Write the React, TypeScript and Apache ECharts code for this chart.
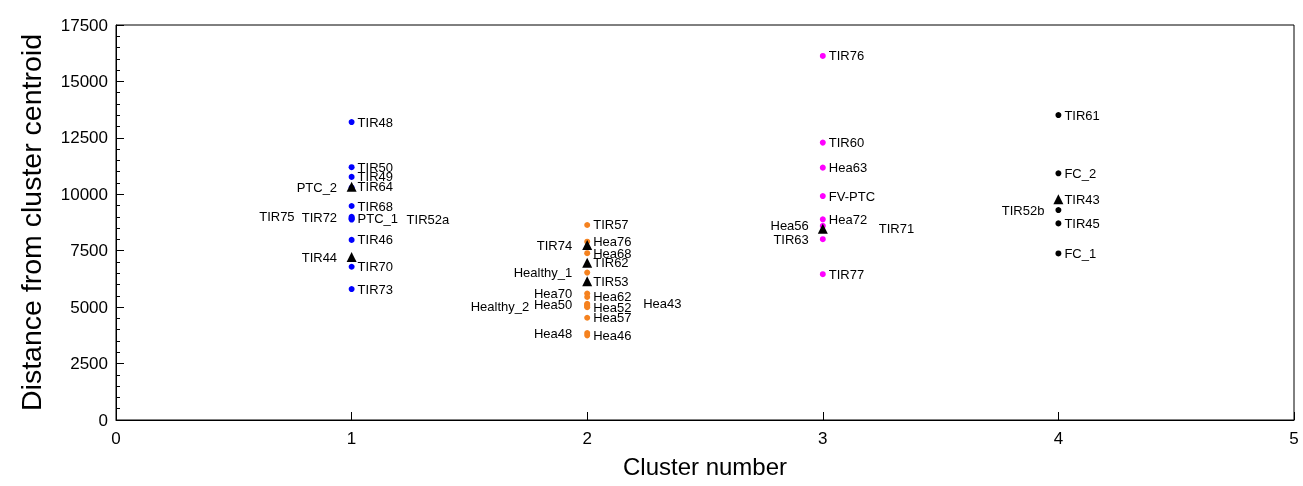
import React, { useEffect, useRef } from "react";
import * as echarts from "echarts";

// ---- Data ----
const cluster1Names = ["TIR48", "TIR50", "TIR49", "PTC_2", "TIR68", "TIR75", "TIR72", "PTC_1", "TIR52a", "TIR46", "TIR70", "TIR73"];
const cluster1Values = [13200, 11200, 10770, 10300, 9480, 9000, 8950, 8920, 8880, 7980, 6790, 5800];

const cluster2Names = ["TIR57", "Hea76", "Hea68", "Healthy_1", "Hea70", "Hea62", "Hea43", "Hea50", "Healthy_2", "Hea52", "Hea57", "Hea48", "Hea46"];
const cluster2Values = [8640, 7900, 7390, 6530, 5600, 5450, 5150, 5100, 5050, 5000, 4530, 3850, 3750];

const cluster3Names = ["TIR76", "TIR60", "Hea63", "FV-PTC", "Hea72", "Hea56", "TIR63", "TIR77"];
const cluster3Values = [16130, 12290, 11180, 9920, 8890, 8600, 8010, 6460];

const cluster4Names = ["TIR61", "FC_2", "TIR52b", "TIR45", "FC_1"];
const cluster4Values = [13510, 10930, 9300, 8710, 7380];

const triangleNames = ["TIR64", "TIR44", "TIR74", "TIR62", "TIR53", "TIR71", "TIR43"];
const triangleClusters = [1, 1, 2, 2, 2, 3, 4];
const triangleValues = [10330, 7220, 7750, 6970, 6150, 8470, 9780];

const xTicks = [0, 1, 2, 3, 4, 5];
const yTicks = [0, 2500, 5000, 7500, 10000, 12500, 15000, 17500];

// ---- Label placement (style) : side and gap from marker centre to text edge ----
const labelPlacement: Record<string, [string, number]> = {
  PTC_2: ["left", 14.5],
  TIR72: ["left", 14.5],
  TIR44: ["left", 14.5],
  TIR75: ["left", 57],
  TIR52a: ["right", 55],
  TIR74: ["left", 15],
  Healthy_1: ["left", 15],
  Hea70: ["left", 15],
  Hea50: ["left", 15],
  Healthy_2: ["left", 58],
  Hea43: ["right", 56],
  Hea48: ["left", 15],
  Hea56: ["left", 14],
  TIR63: ["left", 14],
  TIR71: ["right", 56],
  TIR52b: ["left", 14],
};

const FONT = "Liberation Sans, Arial, sans-serif";
const DOT = 6;
const TRI = 10;

function buildItems(names: string[], clusters: number[], values: number[], size: number) {
  return names.map((n, i) => {
    const p = labelPlacement[n] || ["right", 6];
    return {
      name: n,
      value: [clusters[i], values[i]],
      label: { position: p[0], distance: Math.max(0, p[1] - size / 2) },
    };
  });
}

const App: React.FC = () => {
  const ref = useRef<HTMLDivElement>(null);
  useEffect(() => {
    if (!ref.current) return;
    const chart = echarts.init(ref.current, undefined, { renderer: "svg" });
    const labelBase = {
      show: true,
      formatter: "{b}",
      fontSize: 13,
      color: "#000",
      fontFamily: FONT,
    };
    const dotSeries = (names: string[], values: number[], c: number, color: string) => ({
      type: "scatter",
      symbol: "circle",
      symbolSize: DOT,
      itemStyle: { color, opacity: 1 },
      label: labelBase,
      z: 2,
      data: buildItems(names, names.map(() => c), values, DOT),
    });
    chart.setOption({
      animation: false,
      textStyle: { fontFamily: FONT },
      grid: {
        left: 116,
        right: 9,
        top: 25,
        bottom: 66,
        show: true,
        borderColor: "#000",
        borderWidth: 1,
        backgroundColor: "transparent",
      },
      xAxis: {
        type: "value",
        min: xTicks[0],
        max: xTicks[xTicks.length - 1],
        interval: 1,
        name: "Cluster number",
        nameLocation: "middle",
        nameGap: 34,
        nameTextStyle: { fontSize: 24, color: "#000", fontFamily: FONT },
        axisLine: { show: true, lineStyle: { color: "#000", width: 1 } },
        axisTick: { show: true, inside: true, length: 8, lineStyle: { color: "#000" } },
        axisLabel: { fontSize: 17, color: "#000", margin: 10, fontFamily: FONT, formatter: (v: number) => String(v) },
        splitLine: { show: false },
      },
      yAxis: {
        type: "value",
        min: yTicks[0],
        max: yTicks[yTicks.length - 1],
        interval: 2500,
        name: "Distance from cluster centroid",
        nameLocation: "middle",
        nameGap: 71,
        nameRotate: 90,
        nameTextStyle: { fontSize: 28.5, color: "#000", fontFamily: FONT },
        axisLine: { show: true, lineStyle: { color: "#000", width: 1 } },
        axisTick: { show: true, inside: true, length: 8, lineStyle: { color: "#000" } },
        minorTick: { show: true, splitNumber: 5, length: 4, lineStyle: { color: "#000" } },
        axisLabel: { fontSize: 17, color: "#000", margin: 8, fontFamily: FONT, formatter: (v: number) => String(v) },
        splitLine: { show: false },
      },
      series: [
        dotSeries(cluster1Names, cluster1Values, 1, "#0000FF"),
        dotSeries(cluster2Names, cluster2Values, 2, "#F5821F"),
        dotSeries(cluster3Names, cluster3Values, 3, "#FF00FF"),
        dotSeries(cluster4Names, cluster4Values, 4, "#000000"),
        {
          type: "scatter",
          symbol: "triangle",
          symbolSize: TRI,
          itemStyle: { color: "#000", opacity: 1 },
          label: labelBase,
          z: 3,
          data: buildItems(triangleNames, triangleClusters, triangleValues, TRI),
        },
      ],
    });
    return () => chart.dispose();
  }, []);
  return <div ref={ref} style={{ position: "fixed", left: 0, top: 0, width: 1303, height: 486 }} />;
};

export default App;
